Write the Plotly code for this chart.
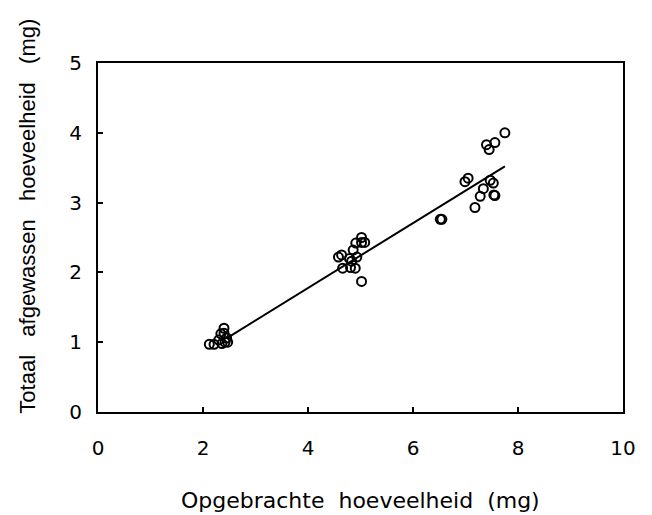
import plotly.graph_objects as go

x_vals = [2.12, 2.21, 2.30, 2.34, 2.40, 2.42, 2.36, 2.45, 2.47, 2.40,
          4.58, 4.64, 4.66, 4.79, 4.81, 4.83, 4.86, 4.90, 4.91, 4.93, 5.02, 5.02, 5.08, 5.02,
          6.52, 6.55, 6.99, 7.05, 7.18, 7.28, 7.34, 7.40, 7.45, 7.47, 7.53, 7.54, 7.56, 7.56, 7.75]
y_vals = [0.97, 0.97, 1.03, 1.12, 1.20, 1.00, 0.98, 1.06, 1.00, 1.13,
          2.22, 2.25, 2.06, 2.20, 2.07, 2.16, 2.32, 2.06, 2.42, 2.22, 2.50, 2.43, 2.43, 1.87,
          2.76, 2.76, 3.30, 3.35, 2.93, 3.09, 3.20, 3.83, 3.76, 3.32, 3.28, 3.11, 3.86, 3.10, 4.00]

# regression line end points
line_x = [2.48, 7.75]
line_y = [1.07, 3.52]

x_ticks = [0, 2, 4, 6, 8, 10]
y_ticks = [0, 1, 2, 3, 4, 5]

x_title = "\u00a0\u00a0".join(["Opgebrachte", "hoeveelheid", "(mg)"])
y_title = "\u00a0\u00a0\u00a0".join(["Totaal", "afgewassen", "hoeveelheid", "(mg)"])

fig = go.Figure()
fig.add_trace(go.Scatter(
    x=line_x, y=line_y, mode="lines",
    line=dict(color="black", width=2), showlegend=False,
))
fig.add_trace(go.Scatter(
    x=x_vals, y=y_vals, mode="markers",
    marker=dict(symbol="circle-open", size=9, color="black", line=dict(width=2, color="black")),
    showlegend=False,
))

fig.add_annotation(
    text=x_title, xref="paper", yref="paper", x=0.5, y=-0.255,
    xanchor="center", yanchor="middle", showarrow=False,
    font=dict(family="DejaVu Sans", size=22, color="black"),
)
fig.add_annotation(
    text=y_title, xref="paper", yref="paper", x=-0.135, y=0.56,
    xanchor="center", yanchor="middle", showarrow=False, textangle=-90,
    font=dict(family="Liberation Sans", size=22, color="black"),
)

fig.update_layout(
    width=652, height=515,
    margin=dict(l=90, r=37, t=55, b=111),
    paper_bgcolor="white", plot_bgcolor="white",
    font=dict(family="DejaVu Sans", color="black", size=20),
    xaxis=dict(
        range=[0, 10], tickvals=x_ticks, ticktext=[str(v) for v in x_ticks],
        showline=True, mirror=True, linecolor="black", linewidth=2,
        ticks="inside", ticklen=5, tickwidth=1.5, tickcolor="black",
        showgrid=False, zeroline=False, ticklabelstandoff=17,
        tickfont=dict(family="DejaVu Sans", size=20),
    ),
    yaxis=dict(
        range=[0, 5], tickvals=y_ticks, ticktext=[str(v) for v in y_ticks],
        showline=True, mirror=True, linecolor="black", linewidth=2,
        ticks="inside", ticklen=5, tickwidth=1.5, tickcolor="black",
        showgrid=False, zeroline=False, ticklabelstandoff=10,
        tickfont=dict(family="DejaVu Sans", size=20),
    ),
)

fig.write_html("out.html")
